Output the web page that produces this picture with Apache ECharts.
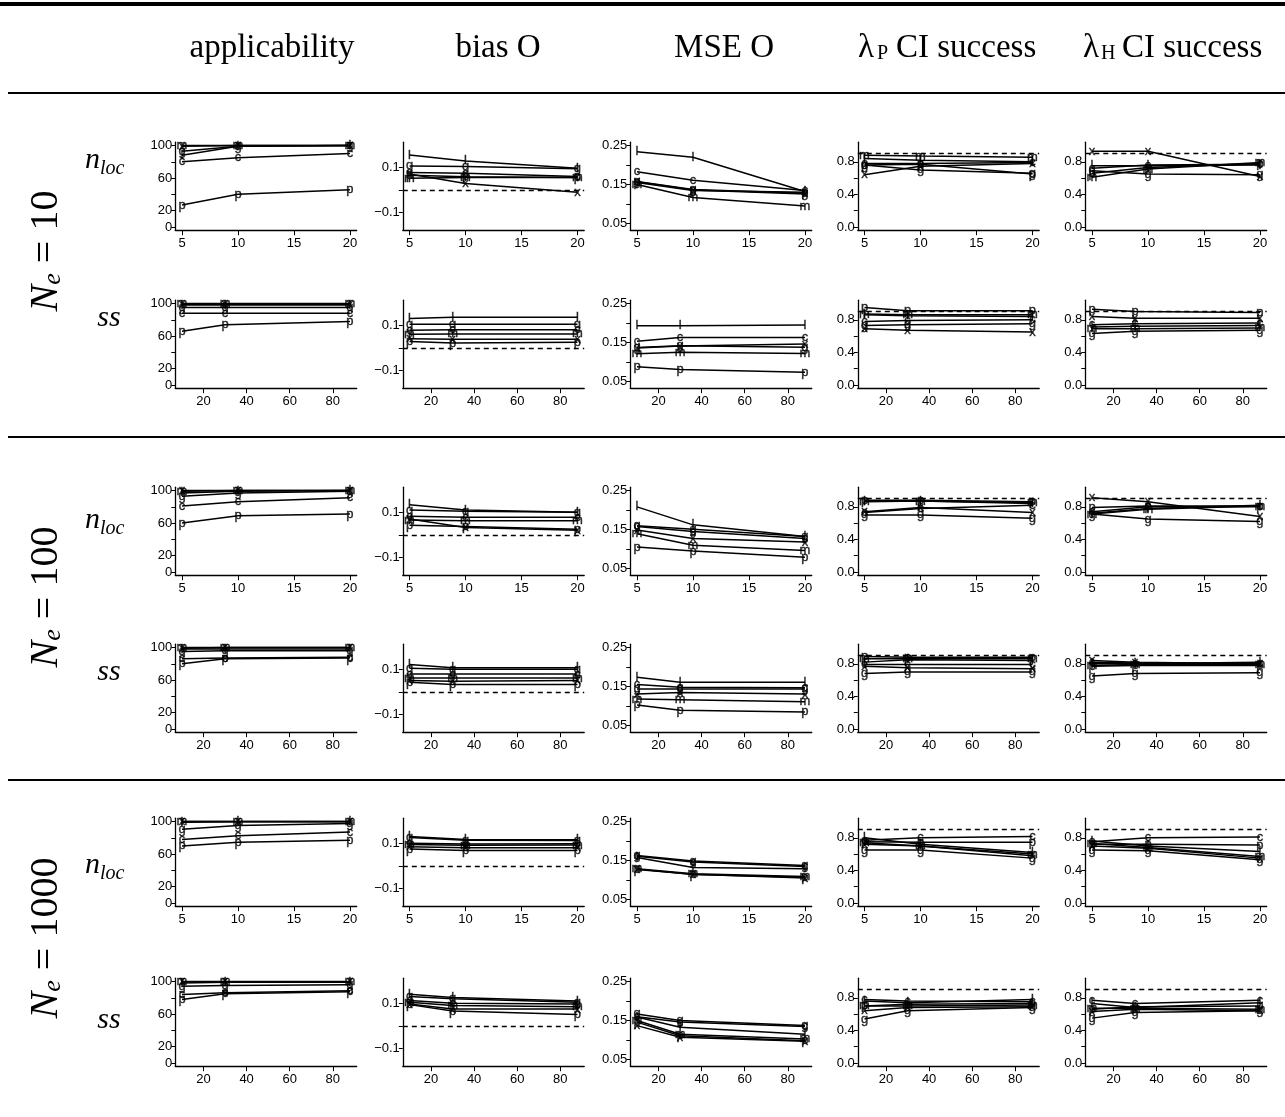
<!DOCTYPE html>
<html><head><meta charset="utf-8">
<script src="https://cdn.jsdelivr.net/npm/echarts@6/dist/echarts.min.js"></script>
<style>html,body{margin:0;padding:0;background:#fff}#c{width:1285px;height:1117px}</style>
</head><body><div id="c"></div>
<script>
// methods, in order of every data array below
const methods = ['p','c','g','m','l','x'];
const nlocX = [5, 10, 20];
const ssX = [10, 30, 88];

// ---- N_e = 10, n_loc ----
const ne10_nloc_app  = [[27,40,45.5],[80,85,90],[93,99,100],[100,100,100],[88,99,100],[99,100,100]];
const ne10_nloc_bias = [[0.065,0.058,0.055],[0.077,0.074,0.059],[0.106,0.103,0.093],[0.052,0.055,0.055],[0.154,0.128,0.096],[0.07,0.028,-0.01]];
const ne10_nloc_mse  = [[0.155,0.135,0.13],[0.183,0.161,0.135],[0.158,0.137,0.128],[0.15,0.117,0.095],[0.234,0.22,0.132],[0.157,0.136,0.126]];
const ne10_nloc_lp   = [[0.76,0.77,0.65],[0.78,0.78,0.79],[0.76,0.70,0.66],[0.88,0.87,0.855],[0.84,0.82,0.80],[0.64,0.745,0.78]];
const ne10_nloc_lh   = [[0.66,0.73,0.78],[0.72,0.76,0.77],[0.69,0.65,0.64],[0.61,0.71,0.79],[0.75,0.75,0.76],[0.93,0.93,0.62]];
// ---- N_e = 10, ss ----
const ne10_ss_app  = [[66,74,78],[88,88,88],[95,95,95],[100,100,100],[98,98,98],[99,99,99]];
const ne10_ss_bias = [[0.028,0.022,0.025],[0.078,0.08,0.08],[0.105,0.105,0.105],[0.06,0.062,0.062],[0.13,0.135,0.135],[0.04,0.038,0.038]];
const ne10_ss_mse  = [[0.088,0.081,0.074],[0.153,0.163,0.163],[0.137,0.142,0.138],[0.121,0.125,0.122],[0.193,0.193,0.195],[0.136,0.141,0.146]];
const ne10_ss_lp   = [[0.95,0.91,0.91],[0.78,0.79,0.80],[0.73,0.74,0.75],[0.87,0.86,0.86],[0.86,0.85,0.84],[0.69,0.67,0.65]];
const ne10_ss_lh   = [[0.93,0.90,0.89],[0.74,0.75,0.76],[0.63,0.66,0.67],[0.69,0.69,0.70],[0.71,0.72,0.73],[0.84,0.82,0.82]];
// ---- N_e = 100, n_loc ----
const ne100_nloc_app  = [[60,69,71],[81,86,91],[93,97,99],[99,100,100],[97,99,100],[100,100,100]];
const ne100_nloc_bias = [[0.043,0.037,0.025],[0.082,0.078,0.078],[0.11,0.104,0.10],[0.066,0.063,0.063],[0.133,0.11,0.10],[0.07,0.033,0.021]];
const ne100_nloc_mse  = [[0.105,0.095,0.079],[0.158,0.145,0.127],[0.16,0.151,0.132],[0.139,0.11,0.096],[0.208,0.162,0.132],[0.149,0.127,0.118]];
const ne100_nloc_lp   = [[0.88,0.88,0.86],[0.73,0.78,0.82],[0.70,0.70,0.66],[0.87,0.87,0.85],[0.86,0.87,0.84],[0.74,0.79,0.73]];
const ne100_nloc_lh   = [[0.79,0.81,0.81],[0.74,0.80,0.80],[0.71,0.65,0.62],[0.71,0.77,0.81],[0.72,0.78,0.82],[0.91,0.86,0.68]];
// ---- N_e = 100, ss ----
const ne100_ss_app  = [[80,86,87],[86,87,88],[95,96,96],[100,100,100],[98,98,98],[99,100,100]];
const ne100_ss_bias = [[0.043,0.033,0.033],[0.079,0.079,0.079],[0.104,0.10,0.10],[0.061,0.061,0.061],[0.121,0.107,0.107],[0.05,0.047,0.05]];
const ne100_ss_mse  = [[0.103,0.089,0.085],[0.155,0.148,0.147],[0.144,0.144,0.144],[0.118,0.116,0.111],[0.174,0.161,0.161],[0.131,0.135,0.131]];
const ne100_ss_lp   = [[0.89,0.88,0.88],[0.79,0.79,0.79],[0.68,0.70,0.70],[0.86,0.86,0.86],[0.82,0.85,0.84],[0.77,0.75,0.74]];
const ne100_ss_lh   = [[0.77,0.78,0.78],[0.82,0.81,0.80],[0.65,0.68,0.69],[0.78,0.79,0.79],[0.80,0.80,0.82],[0.84,0.82,0.80]];
// ---- N_e = 1000, n_loc ----
const ne1000_nloc_app  = [[70,74.6,77],[78,82.5,87],[90.5,95,97.5],[100,100,100],[99,99.5,99.5],[100,100,100]];
const ne1000_nloc_bias = [[0.075,0.068,0.068],[0.10,0.097,0.098],[0.125,0.113,0.112],[0.094,0.091,0.092],[0.13,0.117,0.116],[0.085,0.08,0.08]];
const ne1000_nloc_mse  = [[0.128,0.114,0.107],[0.161,0.146,0.135],[0.163,0.149,0.137],[0.129,0.116,0.109],[0.158,0.132,0.129],[0.127,0.115,0.105]];
const ne1000_nloc_lp   = [[0.75,0.745,0.745],[0.77,0.80,0.815],[0.65,0.65,0.55],[0.74,0.70,0.60],[0.80,0.72,0.62],[0.72,0.70,0.58]];
const ne1000_nloc_lh   = [[0.72,0.72,0.71],[0.75,0.80,0.81],[0.65,0.64,0.53],[0.73,0.68,0.57],[0.76,0.70,0.63],[0.70,0.67,0.55]];
// ---- N_e = 1000, ss ----
const ne1000_ss_app  = [[78,85,87.5],[84,86,88.5],[94,95,96],[100,100,100],[98,99,99],[99.5,99.5,99.5]];
const ne1000_ss_bias = [[0.094,0.066,0.05],[0.112,0.10,0.097],[0.13,0.12,0.105],[0.105,0.09,0.085],[0.14,0.125,0.11],[0.097,0.075,0.075]];
const ne1000_ss_mse  = [[0.146,0.111,0.098],[0.16,0.146,0.135],[0.167,0.15,0.137],[0.15,0.115,0.103],[0.159,0.133,0.115],[0.137,0.107,0.097]];
const ne1000_ss_lp   = [[0.70,0.72,0.73],[0.78,0.76,0.75],[0.54,0.64,0.68],[0.70,0.70,0.71],[0.76,0.74,0.78],[0.64,0.68,0.69]];
const ne1000_ss_lh   = [[0.66,0.69,0.70],[0.77,0.73,0.77],[0.55,0.62,0.64],[0.67,0.67,0.66],[0.73,0.68,0.74],[0.63,0.66,0.64]];

// tick labels
const nlocTicks = [5, 10, 15, 20];
const ssTicks = [20, 40, 60, 80];
const appTicks = [0, 20, 40, 60, 80, 100], appLabels = [0, 20, 60, 100];
const biasTicks = [-0.1, 0, 0.1], biasLabels = [-0.1, 0.1];
const mseTicks = [0.05, 0.10, 0.15, 0.20, 0.25], mseLabels = [0.05, 0.15, 0.25];
const lamTicks = [0, 0.2, 0.4, 0.6, 0.8], lamLabels = [0, 0.4, 0.8];
const refBias = 0, refCI = 0.9;

const rows = [
  [ne10_nloc_app, ne10_nloc_bias, ne10_nloc_mse, ne10_nloc_lp, ne10_nloc_lh],
  [ne10_ss_app, ne10_ss_bias, ne10_ss_mse, ne10_ss_lp, ne10_ss_lh],
  [ne100_nloc_app, ne100_nloc_bias, ne100_nloc_mse, ne100_nloc_lp, ne100_nloc_lh],
  [ne100_ss_app, ne100_ss_bias, ne100_ss_mse, ne100_ss_lp, ne100_ss_lh],
  [ne1000_nloc_app, ne1000_nloc_bias, ne1000_nloc_mse, ne1000_nloc_lp, ne1000_nloc_lh],
  [ne1000_ss_app, ne1000_ss_bias, ne1000_ss_mse, ne1000_ss_lp, ne1000_ss_lh]
];

const rowTops = [142.2, 300.2, 487.2, 644.2, 818.2, 978.2];
const colLefts = [175.3, 402.8, 630.3, 857.8, 1085.3];
const PW = 181.4, PH = 88;

const yCfg = [
  {min: -4, max: 104, ticks: appTicks, labels: appLabels, fmt: v => String(Math.round(v))},
  {min: -0.1775, max: 0.2105, ticks: biasTicks, labels: biasLabels, fmt: v => (v < 0 ? '\u2212' : '') + Math.abs(v).toFixed(1), ref: refBias},
  {min: 0.033, max: 0.2585, ticks: mseTicks, labels: mseLabels, fmt: v => v.toFixed(2)},
  {min: -0.04, max: 1.04, ticks: lamTicks, labels: lamLabels, fmt: v => v.toFixed(1), ref: refCI},
  {min: -0.04, max: 1.04, ticks: lamTicks, labels: lamLabels, fmt: v => v.toFixed(1), ref: refCI}
];

function xRange(xs) {
  const a = Math.min(...xs), b = Math.max(...xs), e = (b - a) * 0.04;
  return [a - e, b + e];
}

const tickFont = {fontFamily: 'Liberation Sans', fontSize: 13, color: '#000'};
const grids = [], xAxes = [], yAxes = [], series = [];
rows.forEach((row, r) => {
  const isSS = r % 2 === 1;
  const xs = isSS ? ssX : nlocX;
  const xr = xRange(xs);
  row.forEach((panel, c) => {
    const k = grids.length;
    grids.push({left: colLefts[c], top: rowTops[r], width: PW, height: PH});
    xAxes.push({
      type: 'value', gridIndex: k, min: xr[0], max: xr[1], position: 'bottom',
      splitLine: {show: false},
      axisLine: {show: true, onZero: false, lineStyle: {color: '#000', width: 1.3}},
      axisTick: {show: true, length: 5, lineStyle: {color: '#000', width: 1}, customValues: isSS ? ssTicks : nlocTicks},
      axisLabel: {show: true, margin: 7, ...tickFont, customValues: isSS ? ssTicks : nlocTicks, formatter: v => String(v)}
    });
    const yc = yCfg[c];
    yAxes.push({
      type: 'value', gridIndex: k, min: yc.min, max: yc.max, position: 'left',
      splitLine: {show: false},
      axisLine: {show: true, onZero: false, lineStyle: {color: '#000', width: 1.3}},
      axisTick: {show: true, length: 4, lineStyle: {color: '#000', width: 1}, customValues: yc.ticks},
      axisLabel: {show: true, margin: 3, ...tickFont, customValues: yc.labels, formatter: yc.fmt}
    });
    panel.forEach((vals, i) => {
      const data = xs.map((x, j) => [x, vals[j]]);
      const s = {
        type: 'line', xAxisIndex: k, yAxisIndex: k, data: data,
        symbol: 'none', silent: true, animation: false,
        lineStyle: {color: '#000', width: 1.5}
      };
      if (i === 0 && yc.ref !== undefined) {
        s.markLine = {
          silent: true, symbol: ['none', 'none'], animation: false,
          label: {show: false},
          lineStyle: {color: '#000', width: 1.3, type: [5, 4]},
          data: [{yAxis: yc.ref}]
        };
      }
      series.push(s);
      series.push({
        type: 'scatter', xAxisIndex: k, yAxisIndex: k, data: data,
        symbolSize: 1, itemStyle: {color: 'rgba(0,0,0,0)'}, silent: true, animation: false,
        label: {show: true, position: 'inside', formatter: methods[i],
          fontFamily: 'Liberation Sans', fontSize: 13, color: '#000',
          textBorderColor: '#000', textBorderWidth: 0.4}
      });
    });
  });
});

const serif = 'Liberation Serif';
const graphic = [
  {type: 'rect', shape: {x: 0, y: 2, width: 1285, height: 4}, style: {fill: '#000'}},
  {type: 'rect', shape: {x: 8, y: 92, width: 1277, height: 2}, style: {fill: '#000'}},
  {type: 'rect', shape: {x: 8, y: 436, width: 1277, height: 2}, style: {fill: '#000'}},
  {type: 'rect', shape: {x: 8, y: 779, width: 1277, height: 2}, style: {fill: '#000'}},
  {type: 'text', x: 272, y: 48, style: {text: 'applicability', font: '33px "Liberation Serif"', fill: '#000', textAlign: 'center', textVerticalAlign: 'middle'}},
  {type: 'text', x: 498, y: 48, style: {text: 'bias O', font: '33px "Liberation Serif"', fill: '#000', textAlign: 'center', textVerticalAlign: 'middle'}},
  {type: 'text', x: 724, y: 48, style: {text: 'MSE O', font: '33px "Liberation Serif"', fill: '#000', textAlign: 'center', textVerticalAlign: 'middle'}},
  {type: 'text', x: 858, y: 48, style: {text: 'λ', font: '33px "Liberation Serif"', fill: '#000', textAlign: 'left', textVerticalAlign: 'middle'}},
  {type: 'text', x: 877, y: 54, style: {text: 'P', font: '20px "Liberation Serif"', fill: '#000', textAlign: 'left', textVerticalAlign: 'middle'}},
  {type: 'text', x: 896, y: 48, style: {text: 'CI success', font: '33px "Liberation Serif"', fill: '#000', textAlign: 'left', textVerticalAlign: 'middle'}},
  {type: 'text', x: 1083, y: 48, style: {text: 'λ', font: '33px "Liberation Serif"', fill: '#000', textAlign: 'left', textVerticalAlign: 'middle'}},
  {type: 'text', x: 1101, y: 54, style: {text: 'H', font: '20px "Liberation Serif"', fill: '#000', textAlign: 'left', textVerticalAlign: 'middle'}},
  {type: 'text', x: 1122, y: 48, style: {text: 'CI success', font: '33px "Liberation Serif"', fill: '#000', textAlign: 'left', textVerticalAlign: 'middle'}}
];
// row block labels
const blockLabels = ['10', '100', '1000'];
const blockCenters = [251, 597, 938];
blockLabels.forEach((b, i) => {
  graphic.push({type: 'text', x: 46, y: blockCenters[i], rotation: Math.PI / 2,
    style: {text: '{n|N}{e|e}{r| = ' + b + '}', textAlign: 'center', textVerticalAlign: 'middle', fill: '#000',
      rich: {
        n: {fontFamily: serif, fontStyle: 'italic', fontSize: 40, fill: '#000'},
        e: {fontFamily: serif, fontStyle: 'italic', fontSize: 26, fill: '#000', verticalAlign: 'bottom', lineHeight: 30},
        r: {fontFamily: serif, fontSize: 40, fill: '#000'}
      }}});
});
const subRowY = [[160, 318], [520, 672], [865, 1020]];
subRowY.forEach(([a, b]) => {
  graphic.push({type: 'text', x: 85, y: a, style: {text: 'n', font: 'italic 30px "Liberation Serif"', fill: '#000', textAlign: 'left', textVerticalAlign: 'middle'}});
  graphic.push({type: 'text', x: 100, y: a + 9, style: {text: 'loc', font: 'italic 20px "Liberation Serif"', fill: '#000', textAlign: 'left', textVerticalAlign: 'middle'}});
  graphic.push({type: 'text', x: 109, y: b, style: {text: 'ss', font: 'italic 30px "Liberation Serif"', fill: '#000', textAlign: 'center', textVerticalAlign: 'middle'}});
});

const chart = echarts.init(document.getElementById('c'), null, {renderer: 'canvas'});
chart.setOption({
  animation: false, backgroundColor: '#fff',
  grid: grids, xAxis: xAxes, yAxis: yAxes, series: series, graphic: graphic
});
</script></body></html>
